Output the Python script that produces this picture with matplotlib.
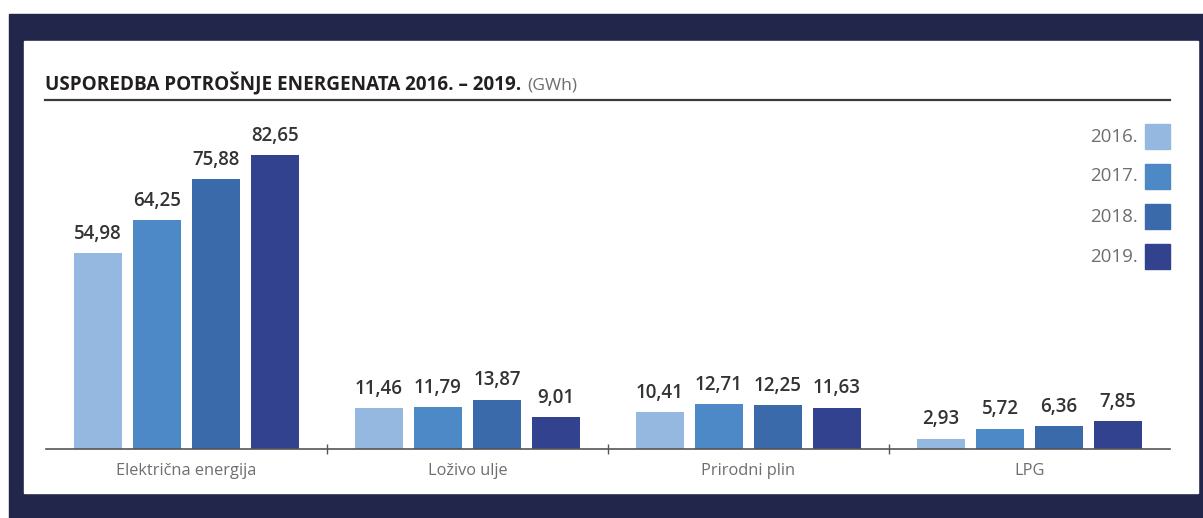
import matplotlib
matplotlib.use("Agg")
import matplotlib.pyplot as plt
from matplotlib.patches import Rectangle
import numpy as np

categories = ["Električna energija", "Loživo ulje", "Prirodni plin", "LPG"]
years = ["2016.", "2017.", "2018.", "2019."]
v2016 = [54.98, 11.46, 10.41, 2.93]
v2017 = [64.25, 11.79, 12.71, 5.72]
v2018 = [75.88, 13.87, 12.25, 6.36]
v2019 = [82.65, 9.01, 11.63, 7.85]
series = [v2016, v2017, v2018, v2019]
colors = ["#95b8e0", "#4d89c7", "#3a6aa9", "#32428f"]

W, H = 1203, 518
fig = plt.figure(figsize=(W / 100, H / 100), dpi=100)
plt.rcParams['font.family'] = ['Open Sans', 'DejaVu Sans']

def fx(px):
    return px / W

def fy(py):
    return 1 - py / H

# navy frame and white panel
fig.patches.append(Rectangle((fx(9), 0), 1 - fx(9), fy(14), transform=fig.transFigure,
                             color="#22264a", zorder=0))
fig.patches.append(Rectangle((fx(24), fy(493)), fx(1198 - 24), fy(41) - fy(493),
                             transform=fig.transFigure, color="white", zorder=1))

# title
fig.text(fx(45), fy(90), "USPOREDBA POTROŠNJE ENERGENATA 2016. – 2019.", fontsize=13.6,
         fontweight="bold", color="#231f20", va="baseline", ha="left", zorder=3)
t = fig.texts[-1]
fig.canvas.draw()
bb = t.get_window_extent()
fig.text(bb.x1 / W + fx(6), fy(90), "(GWh)", fontsize=12.6, color="#6d6e71",
         va="baseline", ha="left", zorder=3)
fig.lines.append(plt.Line2D([fx(45), fx(1170)], [fy(100), fy(100)], transform=fig.transFigure,
                            color="#3a3a3a", lw=1.6, zorder=3))

ax_l, ax_r = 46, 1170
ax_b, ax_t = 449, 110
ax = fig.add_axes([fx(ax_l), fy(ax_b), fx(ax_r - ax_l), fy(ax_t) - fy(ax_b)], zorder=2)
ax.set_facecolor("none")

x = np.arange(len(categories))
bw = 0.171
step = 0.21
for i, (vals, c) in enumerate(zip(series, colors)):
    pos = x + (i - 1.5) * step
    ax.bar(pos, vals, width=bw, color=c, zorder=2)
    for p, v in zip(pos, vals):
        ax.text(p, v + 2.6, f"{v:.2f}".replace(".", ","), ha="center", va="bottom",
                fontsize=13.5, fontweight="semibold", color="#333333")

ax.set_xlim(-0.5, 3.5)
ax.set_ylim(0, (ax_b - ax_t) / 3.557)
for s in ["top", "right", "left"]:
    ax.spines[s].set_visible(False)
ax.spines["bottom"].set_color("#555555")
ax.spines["bottom"].set_linewidth(1.2)
ax.set_yticks([])
ax.set_xticks([0.5, 1.5, 2.5])
ax.set_xticklabels([])
ax.tick_params(axis="x", length=7, width=1, color="#555555", direction="inout")
ax.set_xticks(x, minor=True)
ax.set_xticklabels(categories, minor=True, fontsize=11.8, color="#6d6e71")
ax.tick_params(axis="x", which="minor", length=0, pad=10)

# legend
for i, (yr, c) in enumerate(zip(years, colors)):
    top = 124 + i * 40
    fig.patches.append(Rectangle((fx(1145), fy(top + 25)), fx(25), fy(top) - fy(top + 25),
                                 transform=fig.transFigure, color=c, zorder=3))
    fig.text(fx(1138), fy(top + 12.5), yr, ha="right", va="center", fontsize=13.5,
             color="#6d6e71", zorder=3)

fig.savefig("out.png", dpi=100, facecolor="white")
